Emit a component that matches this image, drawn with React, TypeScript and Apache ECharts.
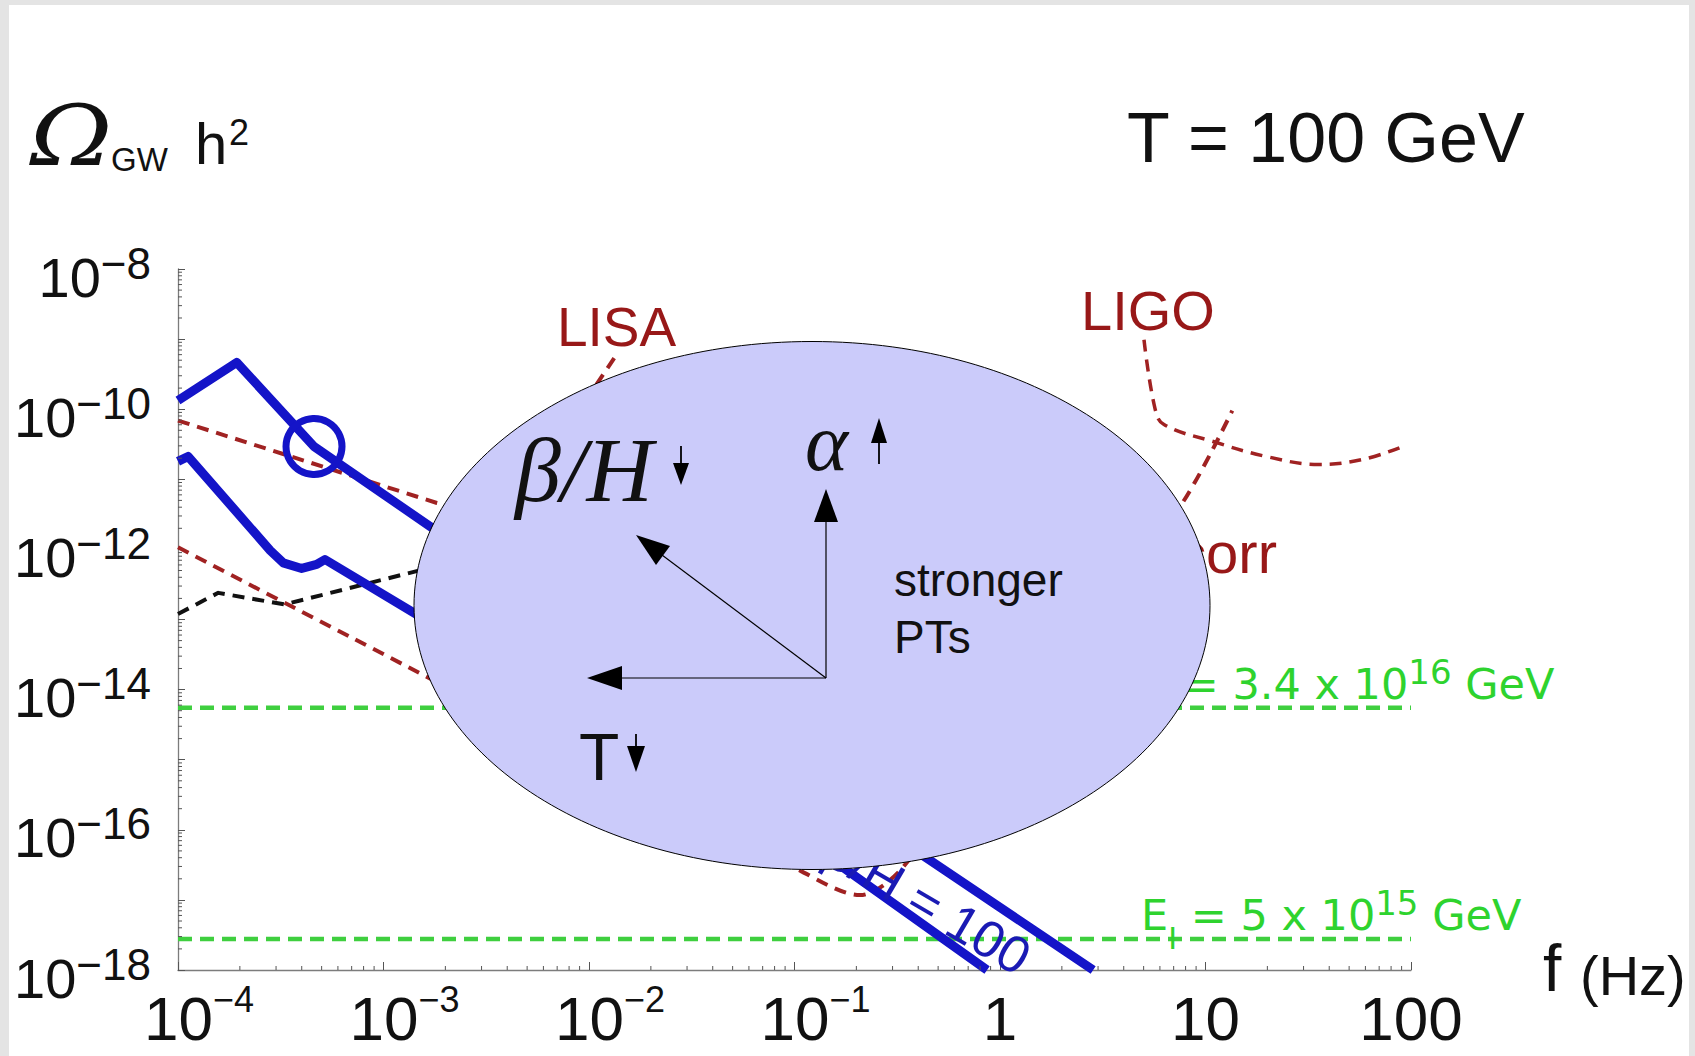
import React, { useEffect, useRef } from 'react';
import * as echarts from 'echarts';

const W = 1695;
const H = 1056;

// ---- data: frequency f (Hz) and Omega_GW h^2 ----
const blueUpperF = [1e-4, 1.93e-4, 4.59e-4, 1.68e-3, 0.456, 2.84];
const blueUpperO = [1.33e-10, 4.65e-10, 2.94e-11, 2.14e-12, 3.67e-17, 1e-18];

const blueLowerF = [1e-4, 1.12e-4, 2.81e-4, 3.25e-4, 4.0e-4, 4.73e-4, 5.19e-4, 1.4e-3, 0.154, 0.865];
const blueLowerO = [1.8e-11, 2.12e-11, 9.64e-13, 6.43e-13, 5.35e-13, 6.1e-13, 7.18e-13, 1.25e-13, 3.67e-17, 1e-18];

const lisaF = [1e-4, 1.82e-3, 3.55e-3, 5.62e-3, 1.34e-2];
const lisaO = [6.89e-11, 4.59e-12, 2.82e-12, 1.26e-11, 5.6e-10];

const bboF = [1e-4, 7.0e-4, 0.106, 0.208, 0.337, 7.35, 13.5];
const bboO = [1.07e-12, 5.51e-14, 2.64e-17, 1.17e-17, 2.92e-17, 3.73e-12, 9.55e-11];

const ligoF = [5.02, 5.68, 6.28, 10.9, 19.7, 35.6, 58.3, 91.4];
const ligoO = [9.77e-10, 1.02e-10, 6.04e-11, 3.46e-11, 2.12e-11, 1.63e-11, 1.92e-11, 2.94e-11];

const noiseF = [1e-4, 1.57e-4, 3.3e-4, 1.45e-3, 3.16e-3];
const noiseO = [1.2e-13, 2.4e-13, 1.64e-13, 4.9e-13, 8.9e-13];

const markerF = [4.59e-4];
const markerO = [2.94e-11];

const inflF = [1e-4, 100];
const inflHighO = [5.51e-15, 5.51e-15];
const inflLowO = [2.76e-18, 2.76e-18];

const xMinExp = -4;
const xMaxExp = 2;
const yMinExp = -18;
const yMaxExp = -8;
const xTickLabels: Record<number, string> = { [-4]: '{bs|10}{s|−4}', [-3]: '{bs|10}{s|−3}', [-2]: '{bs|10}{s|−2}', [-1]: '{bs|10}{s|−1}', 0: '{b|1}', 1: '{b|10}', 2: '{b|100}' };
const yTickLabels: Record<number, string> = { [-8]: '{b|10}{s|−8}', [-10]: '{b|10}{s|−10}', [-12]: '{b|10}{s|−12}', [-14]: '{b|10}{s|−14}', [-16]: '{b|10}{s|−16}', [-18]: '{b|10}{s|−18}' };

const mantissas = [2, 3, 4, 5, 6, 7, 8, 9];
const xMinorTicks: number[] = [];
for (let e = xMinExp; e < xMaxExp; e++) for (const m of mantissas) xMinorTicks.push(m * Math.pow(10, e));
const yMinorTicks: number[] = [];
for (let e = yMinExp; e < yMaxExp; e++) for (const m of mantissas) yMinorTicks.push(m * Math.pow(10, e));

const BLUE = '#1414c8';
const RED = '#a02222';
const LABEL_RED = '#981818';
const GREEN = '#3fcf3f';
const GREEN_TXT = '#2ed32e';

const pairs = (xs: number[], ys: number[]) => xs.map((x, i) => [x, ys[i]]);

const lineSeries = (xs: number[], ys: number[], color: string, width: number, dashed: number[] | null, smooth = 0) => ({
  type: 'line',
  data: pairs(xs, ys),
  showSymbol: false,
  symbol: 'none',
  smooth,
  silent: true,
  clip: true,
  z: 2,
  lineStyle: { color, width, type: dashed ? dashed : 'solid', join: 'round', cap: 'butt' },
});

const expOf = (v: number) => Math.round(Math.log10(v));

const sans = '"Liberation Sans", Arial, Helvetica, sans-serif';
const serif = '"Liberation Serif", "Times New Roman", serif';
const dserif = '"DejaVu Serif", serif';
const dv = '"DejaVu Sans", sans-serif';

const txt = (text: string, x: number, y: number, size: number, extra: any = {}, z = 50, family = sans, el: any = {}) => ({
  type: 'text',
  x,
  y,
  z,
  silent: true,
  ...el,
  style: { text, fontSize: size, fontFamily: family, fill: '#111', verticalAlign: 'middle', align: 'left', ...extra },
});

const line = (x1: number, y1: number, x2: number, y2: number, w = 1.2) => ({
  type: 'line', z: 110, silent: true, shape: { x1, y1, x2, y2 }, style: { stroke: '#000', lineWidth: w },
});
const tri = (pts: number[][]) => ({ type: 'polygon', z: 110, silent: true, shape: { points: pts }, style: { fill: '#000' } });

const greenRich = {
  n: { fontSize: 43, fontFamily: dv, fill: GREEN_TXT, lineHeight: 43, padding: [7, 0, 0, 0], verticalAlign: 'top' },
  sub: { fontSize: 30, fontFamily: dv, fill: GREEN_TXT, lineHeight: 30, padding: [37, 0, 0, 0], verticalAlign: 'top' },
  sup: { fontSize: 34, fontFamily: dv, fill: GREEN_TXT, lineHeight: 34, verticalAlign: 'top' },
};

function buildOption() {
  return {
    animation: false,
    backgroundColor: 'transparent',
    grid: { left: 178, top: 269, width: 1233, height: 701, containLabel: false },
    xAxis: {
      type: 'log',
      logBase: 10,
      min: Math.pow(10, xMinExp),
      max: Math.pow(10, xMaxExp),
      splitNumber: 6,
      splitLine: { show: false },
      axisLine: { show: true, lineStyle: { color: '#7c7c7c', width: 1.3 } },
      axisTick: { show: true, inside: true, length: 8, lineStyle: { color: '#555', width: 1 } },
      axisLabel: {
        show: true,
        showMinLabel: true,
        showMaxLabel: true,
        margin: 11,
        formatter: (v: number) => xTickLabels[expOf(v)] ?? '',
        rich: {
          bs: { fontSize: 62, fontFamily: sans, color: '#111', lineHeight: 62, padding: [6, 0, 0, 42], verticalAlign: 'top' },
          b: { fontSize: 62, fontFamily: sans, color: '#111', lineHeight: 62, padding: [6, 0, 0, 0], verticalAlign: 'top' },
          s: { fontSize: 36, fontFamily: sans, color: '#111', lineHeight: 36, verticalAlign: 'top' },
        },
      },
    },
    yAxis: {
      type: 'log',
      logBase: 10,
      min: Math.pow(10, yMinExp),
      max: Math.pow(10, yMaxExp),
      splitNumber: 10,
      splitLine: { show: false },
      axisLine: { show: true, lineStyle: { color: '#7c7c7c', width: 1.3 } },
      axisTick: { show: true, inside: true, length: 7, lineStyle: { color: '#555', width: 1 } },
      axisLabel: {
        show: true,
        showMinLabel: true,
        showMaxLabel: true,
        margin: 27,
        formatter: (v: number) => yTickLabels[expOf(v)] ?? '',
        rich: {
          b: { fontSize: 56, fontFamily: sans, color: '#111', lineHeight: 56, padding: [8, 0, 8, 0], verticalAlign: 'top' },
          s: { fontSize: 44, fontFamily: sans, color: '#111', lineHeight: 44, verticalAlign: 'top' },
        },
      },
    },
    series: [
      {
        type: 'custom',
        silent: true,
        clip: false,
        z: 3,
        data: xMinorTicks.map((v) => [v, Math.pow(10, yMinExp)]),
        renderItem: (_p: any, api: any) => {
          const pt = api.coord([api.value(0), api.value(1)]);
          return { type: 'line', shape: { x1: pt[0], y1: pt[1], x2: pt[0], y2: pt[1] - 4 }, style: { stroke: '#555', lineWidth: 1 } };
        },
      },
      {
        type: 'custom',
        silent: true,
        clip: false,
        z: 3,
        data: yMinorTicks.map((v) => [Math.pow(10, xMinExp), v]),
        renderItem: (_p: any, api: any) => {
          const pt = api.coord([api.value(0), api.value(1)]);
          return { type: 'line', shape: { x1: pt[0], y1: pt[1], x2: pt[0] + 4, y2: pt[1] }, style: { stroke: '#555', lineWidth: 1 } };
        },
      },
      lineSeries(inflF, inflHighO, GREEN, 4.5, [14, 8]),
      lineSeries(inflF, inflLowO, GREEN, 4.5, [14, 8]),
      lineSeries(noiseF, noiseO, '#111', 4, [12, 8]),
      lineSeries(lisaF, lisaO, RED, 4, [12, 8]),
      lineSeries(bboF, bboO, RED, 4, [12, 8], 0.3),
      lineSeries(ligoF, ligoO, RED, 3.5, [12, 8], 0.4),
      lineSeries(blueUpperF, blueUpperO, BLUE, 9, null),
      lineSeries(blueLowerF, blueLowerO, BLUE, 9, null),
      {
        type: 'scatter',
        silent: true,
        z: 4,
        data: pairs(markerF, markerO),
        symbol: 'circle',
        symbolSize: 56,
        itemStyle: { color: 'rgba(0,0,0,0)', borderColor: BLUE, borderWidth: 7, opacity: 1 },
      },
    ],
    graphic: [
      // titles
      txt('Ω', 30, 136, 84, { fontStyle: 'italic' }, 50, dserif, { scaleX: 1.18 }),
      txt('GW', 111, 159, 33),
      txt('h', 195, 143, 58),
      txt('2', 229, 132, 36),
      txt('T = 100 GeV', 1127, 138, 70),
      txt('f', 1543, 968, 66),
      txt('(Hz)', 1580, 975, 56),
      // curve labels (beneath the ellipse)
      txt('LISA', 557, 327, 55, { fill: LABEL_RED }),
      txt('LIGO', 1081, 310, 56, { fill: LABEL_RED }),
      txt('corr', 1277, 552, 58, { fill: LABEL_RED, align: 'right' }),
      {
        type: 'text', x: 1026, y: 961, rotation: -0.53, z: 50, silent: true,
        style: { text: 'β/H = 100', fontSize: 52, fontFamily: sans, fill: '#1a1ab4', align: 'right', verticalAlign: 'middle' },
      },
      {
        type: 'text', x: 1133, y: 655, z: 50, silent: true,
        style: { text: '{n|E}{sub|I}{n| = 3.4 x 10}{sup|16}{n| GeV}', rich: greenRich, verticalAlign: 'top', align: 'left' },
      },
      {
        type: 'text', x: 1141, y: 886, z: 50, silent: true,
        style: { text: '{n|E}{sub|I}{n| = 5 x 10}{sup|15}{n| GeV}', rich: greenRich, verticalAlign: 'top', align: 'left' },
      },
      // the ellipse
      {
        type: 'ellipse', z: 100, silent: true,
        shape: { cx: 812, cy: 605.5, rx: 398, ry: 264 },
        style: { fill: '#cbcbfa', stroke: '#000', lineWidth: 1 },
      },
      // contents of the ellipse
      txt('β/H', 515, 470, 92, { fontStyle: 'italic' }, 110, serif),
      txt('α', 805, 442, 82, { fontStyle: 'italic' }, 110, serif),
      txt('stronger', 894, 580, 46, {}, 110),
      txt('PTs', 894, 637, 46, {}, 110),
      txt('T', 579, 757, 66, {}, 110),
      // small arrows
      line(681, 446, 681, 465, 1.8),
      tri([[673, 463], [689, 463], [681, 485]]),
      line(879, 440, 879, 464, 1.8),
      tri([[879, 418], [871, 443], [887, 443]]),
      line(636, 734, 636, 748, 1.8),
      tri([[627, 746], [645, 746], [636, 772]]),
      // big arrows
      line(826, 678, 826, 520),
      tri([[826, 489], [814, 522], [838, 522]]),
      line(826, 678, 620, 678),
      tri([[587, 678], [622, 666], [622, 690]]),
      line(826, 678, 662, 555),
      tri([[636, 535], [670, 546], [656, 565]]),
    ],
  };
}

export default function App() {
  const ref = useRef<HTMLDivElement>(null);
  useEffect(() => {
    if (!ref.current) return;
    const chart = echarts.init(ref.current, null, { renderer: 'svg', width: W, height: H });
    chart.setOption(buildOption() as any);
    return () => chart.dispose();
  }, []);
  return (
    <div style={{ position: 'absolute', left: 0, top: 0, width: W, height: H, background: '#e4e4e4', overflow: 'hidden' }}>
      <div style={{ position: 'absolute', left: 9, top: 5, width: 1680, height: 1051, background: '#ffffff' }} />
      <div ref={ref} style={{ position: 'absolute', left: 0, top: 0, width: W, height: H }} />
    </div>
  );
}
